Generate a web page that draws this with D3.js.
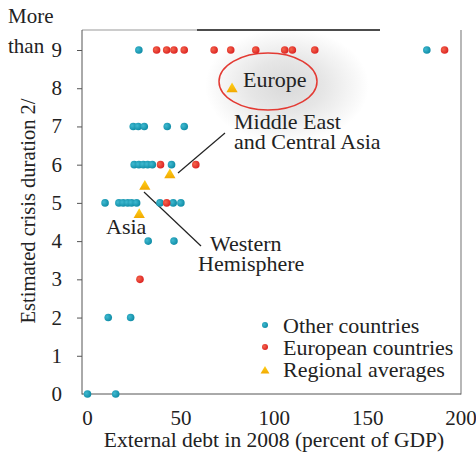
<!DOCTYPE html>
<html><head><meta charset="utf-8">
<script src="https://cdn.jsdelivr.net/npm/d3@7"></script>
<style>
html,body{margin:0;padding:0;background:#fff;}
svg{display:block;}
</style></head>
<body>
<script>
// ---- data ----
const otherX = [27.5,181.7, 24.5,27.2,30.4,42.7,51.8, 25,27.5,29.9,32.2,34.7,45, 9.4,16.8,19.1,21.5,23.6,26.3,38.8,45.9,50, 32.5,46.3, 11.1,23.1, 0,15.1];
const otherY = [9,9, 7,7,7,7,7, 6,6,6,6,6,6, 5,5,5,5,5,5,5,5,5, 4,4, 2,2, 0,0];
const euroX = [37,42.4,46.3,51.8,67.8,76.7,90.1,105.6,109.7,121.7,191.2, 39.1,58, 42.4, 28.1];
const euroY = [9,9,9,9,9,9,9,9,9,9,9, 6,6, 5, 3];
const regionNames = ["Europe","Middle East and Central Asia","Western Hemisphere","Asia"];
const regionX = [77.4,44.1,30.7,27.7];
const regionY = [7.98,5.73,5.43,4.69];
const xTicks = [0,50,100,150,200];
const yTicks = [0,1,2,3,4,5,6,7,8,9];
const legendLabels = ["Other countries","European countries","Regional averages"];

const FONT = "'Liberation Serif', 'DejaVu Serif', serif";
const W=476,H=462;
const x = d3.scaleLinear().domain([0,200]).range([87.5,461]);
const y = d3.scaleLinear().domain([0,9]).range([394,50]);

const svg = d3.select("body").append("svg").attr("width",W).attr("height",H)
  .attr("font-family",FONT).attr("fill","#222");
const defs = svg.append("defs");
const gb = defs.append("radialGradient").attr("id","gBlue").attr("cx","35%").attr("cy","40%").attr("r","65%");
gb.append("stop").attr("offset","0%").attr("stop-color","#3fb9d0");
gb.append("stop").attr("offset","100%").attr("stop-color","#0f8ca6");
const gr = defs.append("radialGradient").attr("id","gRed").attr("cx","35%").attr("cy","40%").attr("r","65%");
gr.append("stop").attr("offset","0%").attr("stop-color","#f4664c");
gr.append("stop").attr("offset","100%").attr("stop-color","#dc2222");
const gt = defs.append("linearGradient").attr("id","gTri").attr("x1","0").attr("y1","0").attr("x2","0").attr("y2","1");
gt.append("stop").attr("offset","0%").attr("stop-color","#ffd21a");
gt.append("stop").attr("offset","100%").attr("stop-color","#f2a900");
const gg = defs.append("radialGradient").attr("id","gGlow");
gg.append("stop").attr("offset","0%").attr("stop-color","#d9d9d9");
gg.append("stop").attr("offset","45%").attr("stop-color","#e6e6e6");
gg.append("stop").attr("offset","100%").attr("stop-color","#ffffff");

function txt(xp, yp, s, size, anchor){
  return svg.append("text").attr("x",xp).attr("y",yp).attr("font-size",size)
    .attr("font-family",FONT).attr("fill","#222").attr("text-anchor",anchor||"start").text(s);
}

// glow behind Europe
svg.append("ellipse").attr("cx",287).attr("cy",86).attr("rx",82).attr("ry",58).attr("fill","url(#gGlow)");

// frame
svg.append("line").attr("x1",82).attr("x2",197).attr("y1",30).attr("y2",30).attr("stroke","#999").attr("stroke-width",1);
svg.append("line").attr("x1",197).attr("x2",380).attr("y1",30).attr("y2",30).attr("stroke","#111").attr("stroke-width",1.6);
svg.append("line").attr("x1",461).attr("x2",461).attr("y1",30).attr("y2",394.5).attr("stroke","#888").attr("stroke-width",1.2);

// y axis
const yAxis = d3.axisLeft(y).tickValues(yTicks.slice(1)).tickSize(5).tickFormat("");
const gy = svg.append("g").attr("transform","translate(82,0)").call(yAxis);
gy.select(".domain").attr("stroke","#555").attr("d","M0,30V394.5");
gy.selectAll(".tick line").attr("stroke","#555");
yTicks.forEach(d=>txt(62, y(d)+7, d, 21, "end"));
txt(8,23,"More",21);
txt(8,53,"than",21);
svg.append("text").attr("transform","translate(35,211) rotate(-90)").attr("text-anchor","middle")
  .attr("font-size",20.5).attr("font-family",FONT).attr("fill","#222").text("Estimated crisis duration 2/");

// x axis
const xAxis = d3.axisBottom(x).tickValues(xTicks).tickSize(0).tickFormat("");
const gx = svg.append("g").attr("transform","translate(0,394)").call(xAxis);
gx.select(".domain").attr("stroke","#555").attr("d","M82,0H461");
xTicks.forEach(d=>txt(x(d), 425, d, 21, "middle"));
txt(274,447,"External debt in 2008 (percent of GDP)",21.5,"middle");

// Europe ellipse + annotations
svg.append("ellipse").attr("cx",268).attr("cy",81.5).attr("rx",49).attr("ry",28.5).attr("fill","none").attr("stroke","#e33a33").attr("stroke-width",1.5);
txt(243,87,"Europe",22);
txt(234,129,"Middle East",22);
txt(234,149,"and Central Asia",22);
svg.append("line").attr("x1",178).attr("y1",173).attr("x2",225).attr("y2",133).attr("stroke","#222").attr("stroke-width",1.2);
txt(210,251,"Western",22);
txt(198,271,"Hemisphere",22);
svg.append("line").attr("x1",144).attr("y1",192).attr("x2",201).attr("y2",246).attr("stroke","#222").attr("stroke-width",1.2);
txt(106,234,"Asia",22);

// points
const others = otherX.map((v,i)=>({x:v,y:otherY[i]}));
const euros = euroX.map((v,i)=>({x:v,y:euroY[i]}));
svg.append("g").selectAll("circle").data(others).enter().append("circle")
  .attr("cx",d=>x(d.x)).attr("cy",d=>y(d.y)).attr("r",3.8).attr("fill","url(#gBlue)");
svg.append("g").selectAll("circle").data(euros).enter().append("circle")
  .attr("cx",d=>x(d.x)).attr("cy",d=>y(d.y)).attr("r",3.8).attr("fill","url(#gRed)");
const regions = regionX.map((v,i)=>({name:regionNames[i],x:v,y:regionY[i]}));
const tri = d3.symbol(d3.symbolTriangle,55);
svg.append("g").selectAll("path").data(regions).enter().append("path")
  .attr("transform",d=>`translate(${x(d.x)},${y(d.y)})`).attr("d",tri).attr("fill","url(#gTri)");

// legend
const ly = [325,347,370];
svg.append("circle").attr("cx",265).attr("cy",ly[0]).attr("r",3).attr("fill","url(#gBlue)");
svg.append("circle").attr("cx",265).attr("cy",ly[1]).attr("r",3).attr("fill","url(#gRed)");
svg.append("path").attr("transform",`translate(265,${ly[2]+1})`).attr("d",d3.symbol(d3.symbolTriangle,34)).attr("fill","url(#gTri)");
legendLabels.forEach((d,i)=>txt(283,[333,355,377][i],d,22));
</script>
</body></html>
